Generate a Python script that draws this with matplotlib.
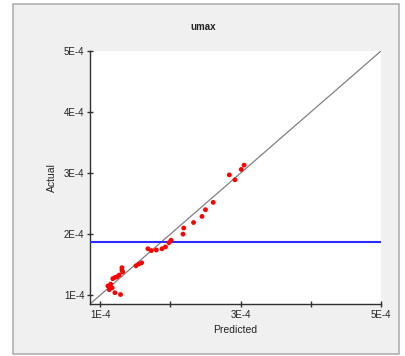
import matplotlib
matplotlib.use("Agg")
import matplotlib.pyplot as plt
from matplotlib.patches import Rectangle
from matplotlib.ticker import FixedLocator, FuncFormatter

# predicted vs actual (units of 1E-4)
predicted = [3.05, 3.01, 2.84, 2.92, 2.61, 2.50, 2.45, 2.33, 2.19, 2.18,
             2.01, 1.98, 1.93, 1.88, 1.80, 1.73, 1.68, 1.59, 1.55, 1.51,
             1.31, 1.31, 1.32, 1.27, 1.21, 1.18, 1.24, 1.15, 1.11, 1.13,
             1.21, 1.29, 1.17]
actual = [3.13, 3.06, 2.97, 2.89, 2.52, 2.40, 2.29, 2.19, 2.10, 2.00,
          1.90, 1.86, 1.79, 1.76, 1.74, 1.73, 1.76, 1.53, 1.51, 1.48,
          1.45, 1.41, 1.38, 1.33, 1.29, 1.27, 1.30, 1.18, 1.15, 1.09,
          1.04, 1.01, 1.12]
ref_level = 1.87
ax_min, ax_max = 0.855, 5.0
x_labels = {1: "1E-4", 3: "3E-4", 5: "5E-4"}
y_labels = {1: "1E-4", 2: "2E-4", 3: "3E-4", 4: "4E-4", 5: "5E-4"}

plt.rcParams['font.family'] = ['Liberation Sans', 'DejaVu Sans']
fig = plt.figure(figsize=(4.06, 3.56), dpi=100, facecolor='white')
fig.patches.append(Rectangle((13/406, 2/356), 386/406, 350/356, transform=fig.transFigure,
                             facecolor='#f0f0f0', edgecolor='#b0b0b0', lw=1.2, zorder=-10))

ax = fig.add_axes([90/406, 1 - 304/356, 291/406, 253/356])
ax.set_facecolor('white')

ax.plot([ax_min, ax_max], [ax_min, ax_max], color='#808080', lw=0.9, zorder=2)
ax.axhline(ref_level, color='#2b2bff', lw=1.5, zorder=3)
ax.scatter(predicted, actual, s=12, color='red', edgecolors='none', zorder=4)

ax.set_xlim(ax_min, ax_max)
ax.set_ylim(ax_min, ax_max)
for s in ['top', 'right']:
    ax.spines[s].set_visible(False)
for s in ['left', 'bottom']:
    ax.spines[s].set_color('#303030')
    ax.spines[s].set_linewidth(1.0)

ax.xaxis.set_major_locator(FixedLocator([1, 2, 3, 4, 5]))
ax.yaxis.set_major_locator(FixedLocator([1, 2, 3, 4, 5]))
ax.xaxis.set_major_formatter(FuncFormatter(lambda v, p: x_labels.get(int(round(v)), "")))
ax.yaxis.set_major_formatter(FuncFormatter(lambda v, p: y_labels.get(int(round(v)), "")))
ax.tick_params(direction='inout', length=4, width=1, color='#303030',
               labelsize=7, labelcolor='#222222', pad=2)

ax.set_xlabel("Predicted", fontsize=7.5, color='#222222', labelpad=4)
ax.set_ylabel("Actual", fontsize=7.5, color='#222222', labelpad=5)
fig.text(203/406, 1 - 27/356, "umax", ha='center', va='center', fontsize=7,
         fontweight='bold', color='#222222')

fig.savefig("out.png", dpi=100, facecolor=fig.get_facecolor())
